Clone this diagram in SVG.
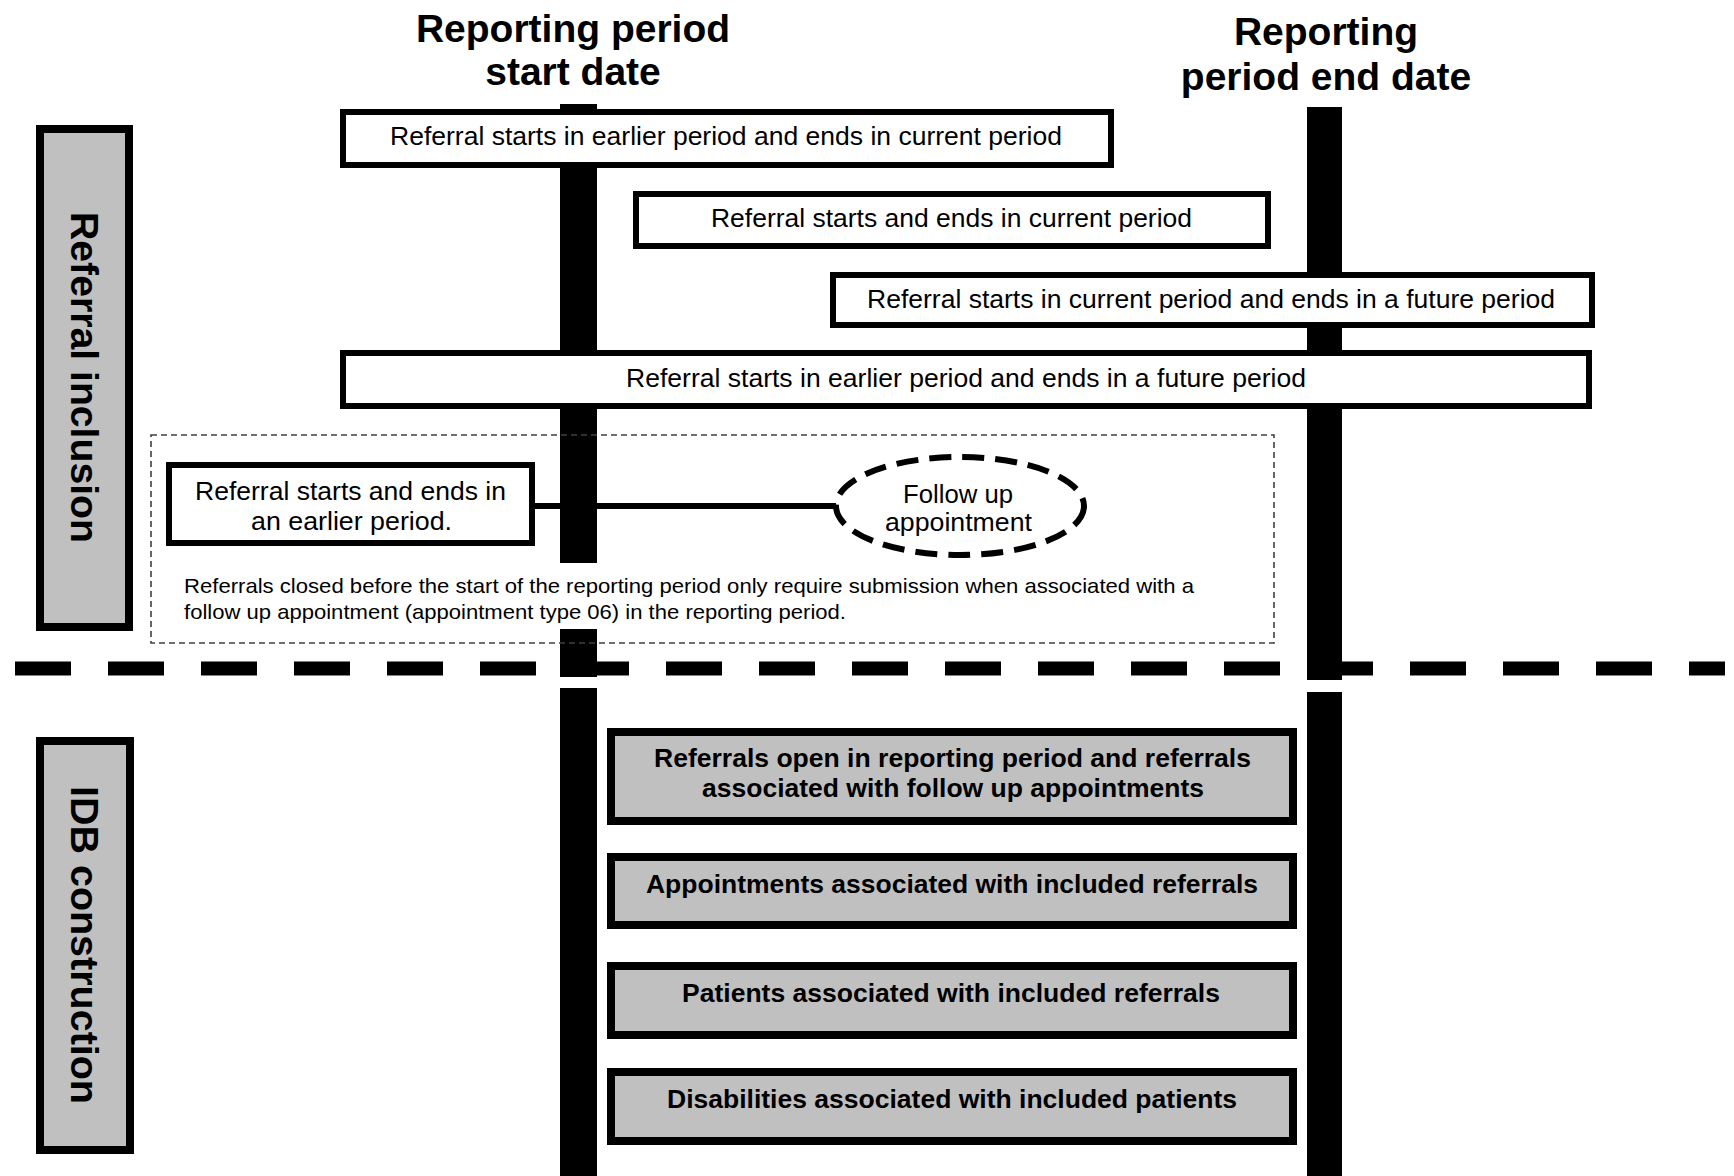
<svg xmlns="http://www.w3.org/2000/svg" width="1734" height="1176" viewBox="0 0 1734 1176">
<style>
  .title { font-family: "Liberation Sans", Arial, sans-serif; font-weight: bold; font-size: 39px; fill: #000; text-anchor: middle; }
  .lane { font-family: "Liberation Sans", Arial, sans-serif; font-weight: bold; font-size: 38.5px; fill: #000; text-anchor: middle; }
  .lbl { font-family: "Liberation Sans", Arial, sans-serif; font-size: 26px; fill: #000; text-anchor: middle; }
  .blbl { font-family: "Liberation Sans", Arial, sans-serif; font-weight: bold; font-size: 25px; fill: #000; text-anchor: middle; }
  .note { font-family: "Liberation Sans", Arial, sans-serif; font-size: 21px; fill: #000; }
  .bar { fill: #000; }
  .wbox { fill: #fff; stroke: #000; stroke-width: 6; }
  .gbox { fill: #c0c0c0; stroke: #000; stroke-width: 8; }
  .lanebox { fill: #c0c0c0; stroke: #000; stroke-width: 8; }
</style>

<!-- period bars -->
<g id="bar-start">
  <rect class="bar" x="560" y="104" width="37" height="459"/>
  <rect class="bar" x="560" y="629" width="37" height="48"/>
  <rect class="bar" x="560" y="688" width="37" height="488"/>
</g>
<g id="bar-end">
  <rect class="bar" x="1307" y="107" width="35" height="573"/>
  <rect class="bar" x="1307" y="692" width="35" height="484"/>
</g>

<g id="title-start">
  <text class="title" x="573" y="42">Reporting period</text>
  <text class="title" x="573" y="85">start date</text>
</g>
<g id="title-end">
  <text class="title" x="1326" y="45">Reporting</text>
  <text class="title" x="1326" y="90">period end date</text>
</g>

<g id="lane-inclusion">
  <rect class="lanebox" x="40" y="129" width="89" height="498"/>
  <text class="lane" transform="translate(71,377.5) rotate(90)" textLength="331" lengthAdjust="spacingAndGlyphs">Referral inclusion</text>
</g>
<g id="lane-idb">
  <rect class="lanebox" x="40" y="741" width="90" height="409"/>
  <text class="lane" transform="translate(71,945) rotate(90)" textLength="318" lengthAdjust="spacingAndGlyphs">IDB construction</text>
</g>

<g id="ref-earlier-current">
  <rect class="wbox" x="343" y="112" width="768" height="53"/>
  <text class="lbl" x="726" y="145" textLength="672" lengthAdjust="spacingAndGlyphs">Referral starts in earlier period and ends in current period</text>
</g>
<g id="ref-current-current">
  <rect class="wbox" x="636" y="194" width="632" height="52"/>
  <text class="lbl" x="951.5" y="227" textLength="481" lengthAdjust="spacingAndGlyphs">Referral starts and ends in current period</text>
</g>
<g id="ref-current-future">
  <rect class="wbox" x="833" y="275" width="759" height="50"/>
  <text class="lbl" x="1211" y="308" textLength="688" lengthAdjust="spacingAndGlyphs">Referral starts in current period and ends in a future period</text>
</g>
<g id="ref-earlier-future">
  <rect class="wbox" x="343" y="353" width="1246" height="53"/>
  <text class="lbl" x="966" y="387" textLength="680" lengthAdjust="spacingAndGlyphs">Referral starts in earlier period and ends in a future period</text>
</g>

<g id="note-box">
  <rect x="151" y="435" width="1123" height="208" fill="none" stroke="#404040" stroke-width="1.6" stroke-dasharray="6 4"/>
  <text class="note" x="184" y="593" textLength="1010" lengthAdjust="spacingAndGlyphs">Referrals closed before the start of the reporting period only require submission when associated with a</text>
  <text class="note" x="184" y="619" textLength="662" lengthAdjust="spacingAndGlyphs">follow up appointment (appointment type 06) in the reporting period.</text>
</g>

<g id="connectors">
  <line x1="535" y1="506" x2="836" y2="506" stroke="#000" stroke-width="6"/>
</g>

<g id="ref-earlier-earlier">
  <rect class="wbox" x="169" y="465" width="363" height="78"/>
  <text class="lbl" x="350.5" y="500" textLength="311" lengthAdjust="spacingAndGlyphs">Referral starts and ends in</text>
  <text class="lbl" x="351.5" y="530" textLength="201" lengthAdjust="spacingAndGlyphs">an earlier period.</text>
</g>

<g id="followup">
  <ellipse cx="960" cy="506" rx="124" ry="49" fill="#fff" stroke="#000" stroke-width="6" stroke-dasharray="22 11"/>
  <text class="lbl" x="958" y="503" textLength="110" lengthAdjust="spacingAndGlyphs">Follow up</text>
  <text class="lbl" x="958.5" y="531" textLength="147" lengthAdjust="spacingAndGlyphs">appointment</text>
</g>

<g id="divider">
  <line x1="15" y1="668.5" x2="1725" y2="668.5" stroke="#000" stroke-width="14" stroke-dasharray="56 37"/>
</g>

<g id="idb-referrals">
  <rect class="gbox" x="611" y="732" width="682" height="89"/>
  <text class="blbl" x="952.5" y="767" textLength="597" lengthAdjust="spacingAndGlyphs">Referrals open in reporting period and referrals</text>
  <text class="blbl" x="953" y="797" textLength="502" lengthAdjust="spacingAndGlyphs">associated with follow up appointments</text>
</g>
<g id="idb-appointments">
  <rect class="gbox" x="611" y="857" width="682" height="68"/>
  <text class="blbl" x="952" y="893" textLength="612" lengthAdjust="spacingAndGlyphs">Appointments associated with included referrals</text>
</g>
<g id="idb-patients">
  <rect class="gbox" x="611" y="966" width="682" height="69"/>
  <text class="blbl" x="951" y="1002" textLength="538" lengthAdjust="spacingAndGlyphs">Patients associated with included referrals</text>
</g>
<g id="idb-disabilities">
  <rect class="gbox" x="611" y="1072" width="682" height="69"/>
  <text class="blbl" x="952" y="1108" textLength="570" lengthAdjust="spacingAndGlyphs">Disabilities associated with included patients</text>
</g>
</svg>
